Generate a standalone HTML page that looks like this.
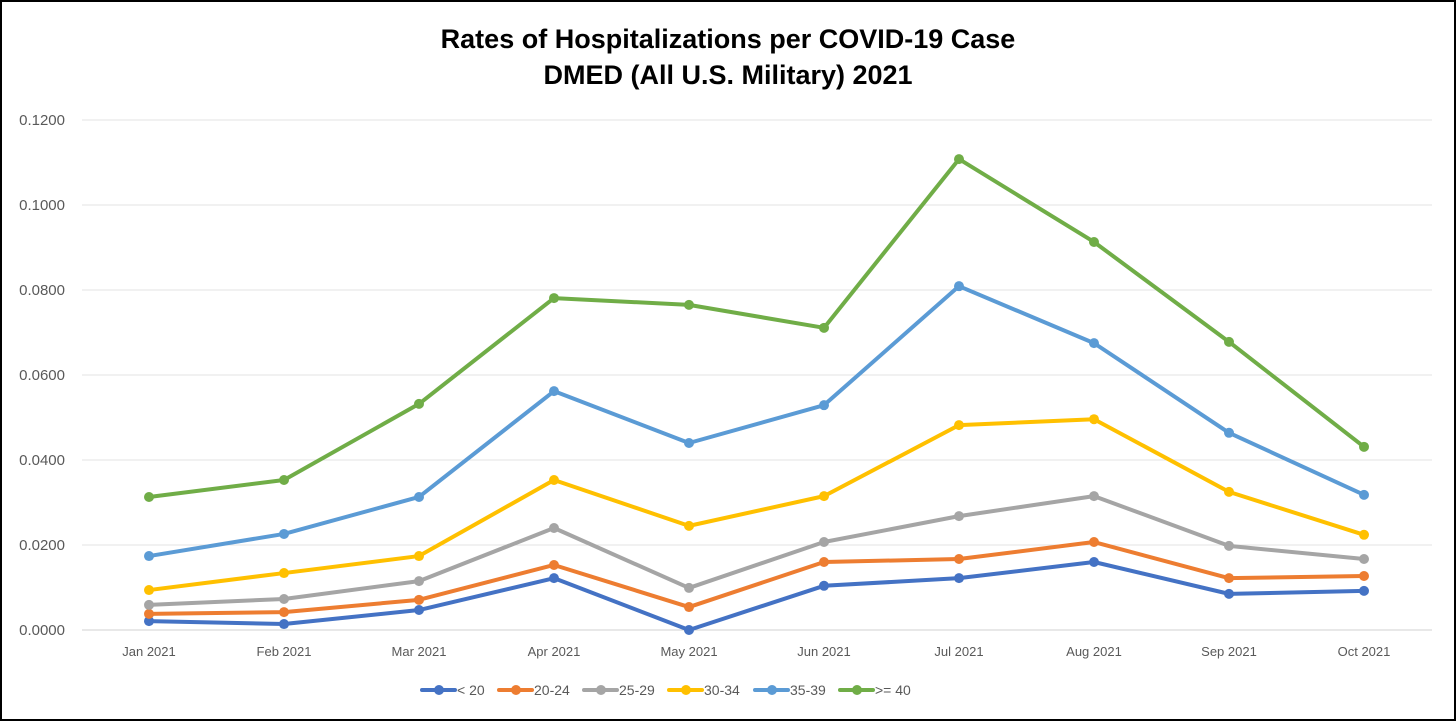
<!DOCTYPE html>
<html><head><meta charset="utf-8"><style>
body{margin:0;background:#fff;}
#wrap{position:relative;width:1456px;height:721px;box-sizing:border-box;border:2px solid #000;background:#fff;font-family:"Liberation Sans",sans-serif;overflow:hidden}
svg{position:absolute;left:-2px;top:-2px}
</style></head><body>
<div id="wrap">
<svg id="chart" width="1456" height="721"></svg>
</div>
<script>
const categories=["Jan 2021","Feb 2021","Mar 2021","Apr 2021","May 2021","Jun 2021","Jul 2021","Aug 2021","Sep 2021","Oct 2021"];
const seriesNames=["< 20","20-24","25-29","30-34","35-39",">= 40"];
const seriesColors=["#4472C4","#ED7D31","#A5A5A5","#FFC000","#5B9BD5","#70AD47"];
const sLt20=[0.0021,0.0014,0.0047,0.0122,0.0000,0.0104,0.0122,0.0160,0.0085,0.0092];
const s20_24=[0.0038,0.0042,0.0071,0.0153,0.0054,0.0160,0.0167,0.0207,0.0122,0.0127];
const s25_29=[0.0059,0.0073,0.0115,0.0240,0.0099,0.0207,0.0268,0.0315,0.0198,0.0167];
const s30_34=[0.0094,0.0134,0.0174,0.0353,0.0245,0.0315,0.0482,0.0496,0.0325,0.0224];
const s35_39=[0.0174,0.0226,0.0313,0.0562,0.0440,0.0529,0.0809,0.0675,0.0464,0.0318];
const s40p=[0.0313,0.0353,0.0532,0.0781,0.0765,0.0711,0.1108,0.0913,0.0678,0.0431];
const yTicks=[0,0.02,0.04,0.06,0.08,0.10,0.12];
const yTickLabels=["0.0000","0.0200","0.0400","0.0600","0.0800","0.1000","0.1200"];

const allSeries=[sLt20,s20_24,s25_29,s30_34,s35_39,s40p];
const svg=document.getElementById('chart');
const NS='http://www.w3.org/2000/svg';
const x0=149,xStep=135,yBase=630,yTop=120,yMax=0.12;
const xScale=i=>x0+i*xStep;
const yScale=v=>yBase-(v/yMax)*(yBase-yTop);
function mk(tag,attrs,parent){const e=document.createElementNS(NS,tag);for(const k in attrs)e.setAttribute(k,attrs[k]);(parent||svg).appendChild(e);return e;}

const t1=mk('text',{x:728,y:48,'text-anchor':'middle','font-size':'27','font-weight':'bold',fill:'#000'});
t1.textContent='Rates of Hospitalizations per COVID-19 Case';


const t2=mk('text',{x:728,y:84,'text-anchor':'middle','font-size':'27','font-weight':'bold',fill:'#000'});
t2.textContent='DMED (All U.S. Military) 2021';



yTicks.forEach((v,i)=>{
  const y=yScale(v);
  const g=mk('line',{x1:82,x2:1432,y1:y,y2:y,stroke:i===0?'#d0d0d0':'#e3e3e3','stroke-width':1});
  
  
  const t=mk('text',{x:65,y:y+5,'text-anchor':'end','font-size':'15',fill:'#595959'});
  t.textContent=yTickLabels[i];
  
  
});
categories.forEach((c,i)=>{
  const t=mk('text',{x:xScale(i),y:656,'text-anchor':'middle','font-size':'13',fill:'#595959'});
  t.textContent=c;
  
  
});
allSeries.forEach((s,k)=>{
  const pts=s.map((v,i)=>xScale(i)+','+yScale(v)).join(' ');
  const pl=mk('polyline',{points:pts,fill:'none',stroke:seriesColors[k],'stroke-width':4,'stroke-linejoin':'round','stroke-linecap':'round'});
  
  
  s.forEach((v,i)=>{
    const c=mk('circle',{cx:xScale(i),cy:yScale(v),r:5,fill:seriesColors[k]});
    
    
  });
});
const legendX=[422,499,584,669,755,840];
seriesNames.forEach((n,k)=>{
  const lx=legendX[k],ly=690;
  const l=mk('line',{x1:lx,x2:lx+33,y1:ly,y2:ly,stroke:seriesColors[k],'stroke-width':4,'stroke-linecap':'round'});
  
  
  const c=mk('circle',{cx:lx+17,cy:ly,r:5,fill:seriesColors[k]});
  
  
  const t=mk('text',{x:lx+35,y:ly+5,'font-size':'14',fill:'#595959'});
  t.textContent=n;
  
  
});
</script>
</body></html>
